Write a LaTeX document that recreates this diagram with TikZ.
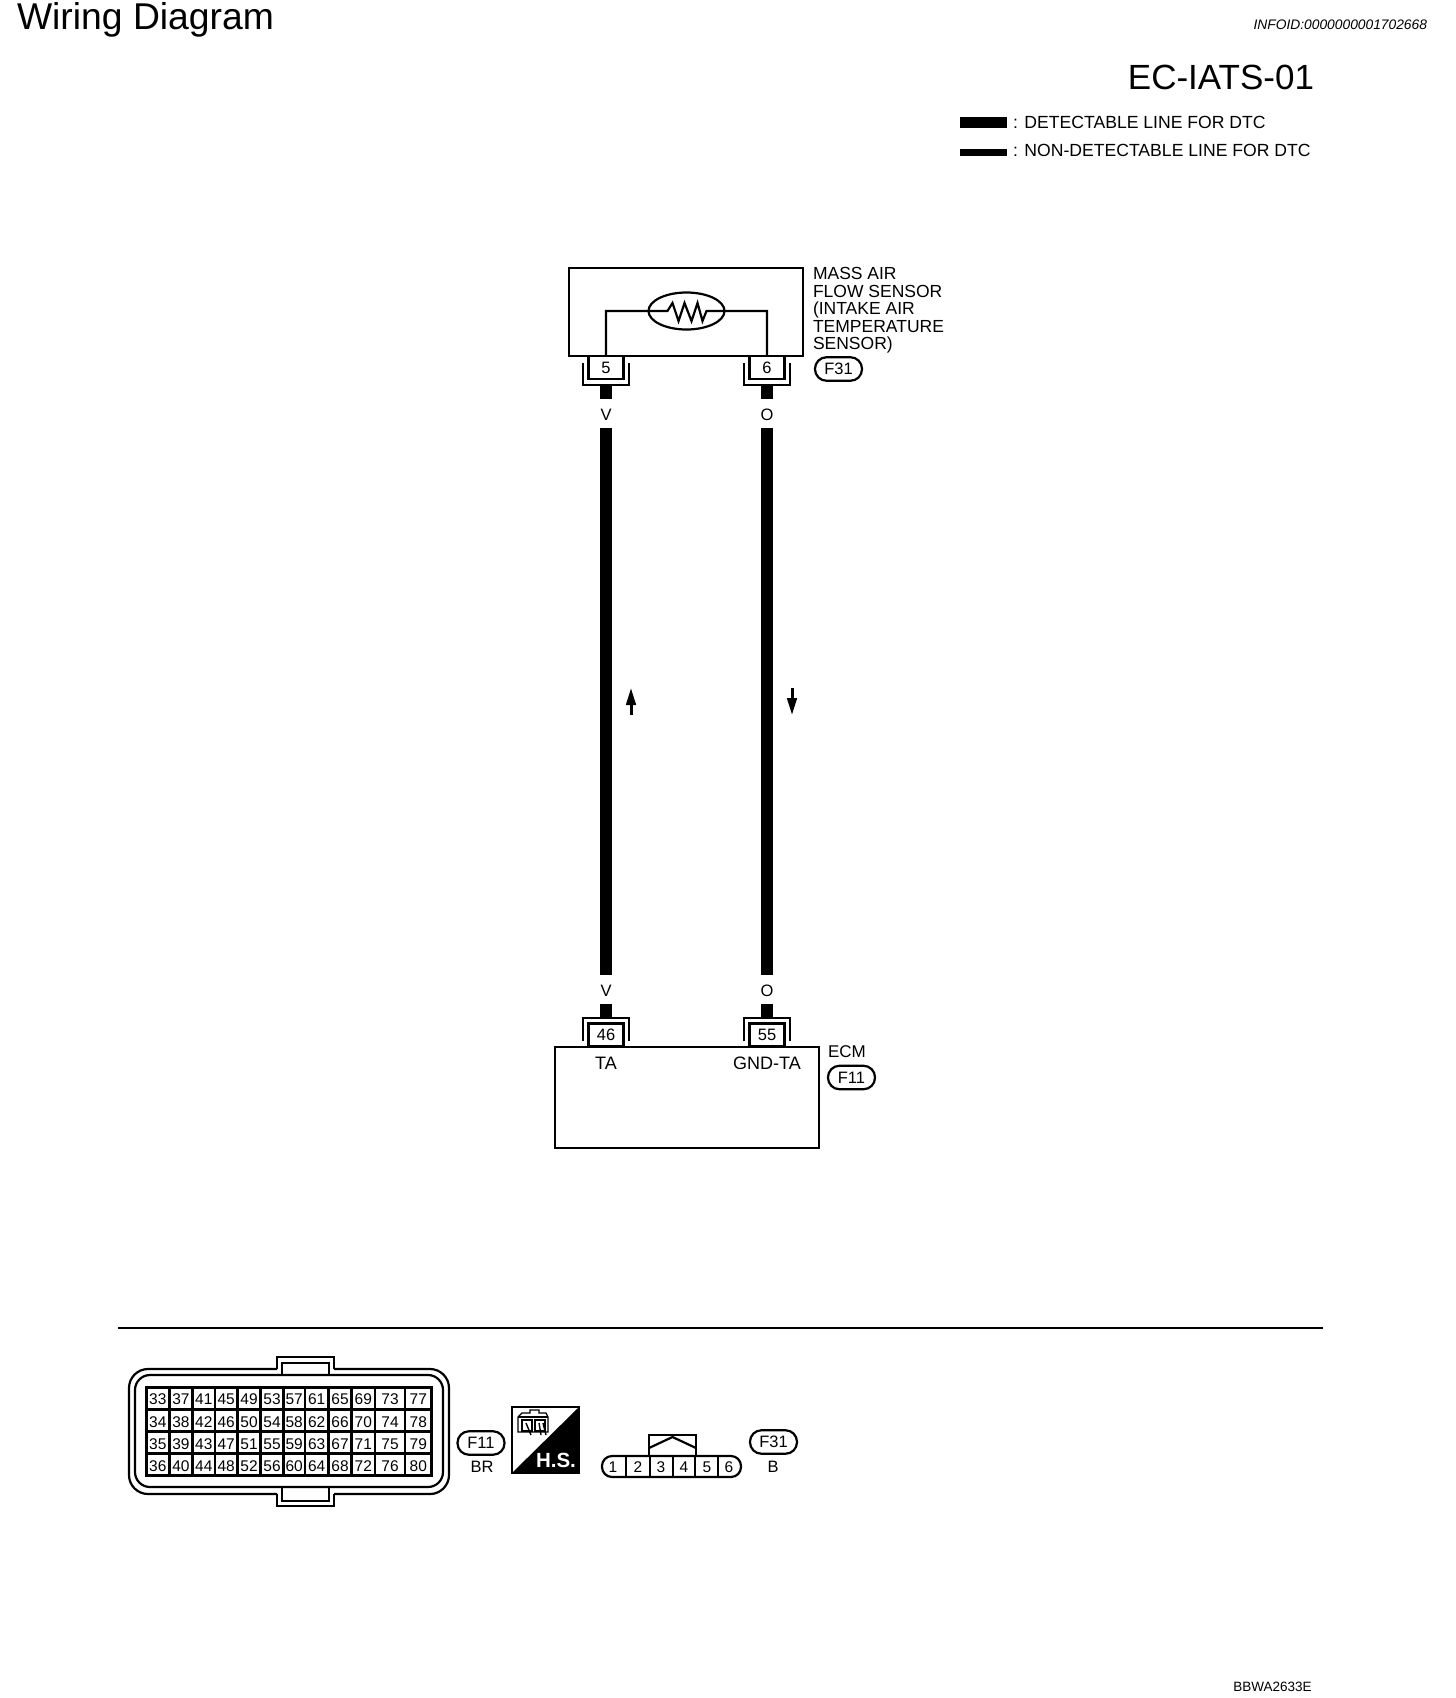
\documentclass[tikz,border=0pt]{standalone}
\usepackage{fontspec}
\setmainfont{Liberation Sans}
\usetikzlibrary{arrows.meta,shapes.geometric}
\newcommand{\fsz}[1]{\fontsize{#1}{#1}\selectfont}
\tikzset{
    box/.style={draw, rectangle, line width=2.2pt, inner sep=0pt, outer sep=0pt},
    pinbox/.style={box, minimum width=35pt, minimum height=23pt, font=\fsz{16.5}},
    tagbox/.style={box, rounded corners=11.5pt, minimum width=47pt, minimum height=23.5pt, font=\fsz{16.5}},
    wire/.style={line width=11.5pt},
    thinline/.style={line width=2.2pt},
    lbl/.style={inner sep=0pt, outer sep=0pt, font=\fsz{16.5}},
    wirelbl/.style={inner sep=0pt, outer sep=0pt, font=\fsz{16.5}, minimum width=12pt, minimum height=29pt, text height=15.5pt, text depth=0pt},
    cell/.style={draw, rectangle, line width=2.6pt, inner sep=0pt, outer sep=0pt, minimum height=22.1pt, font=\fsz{15.5}, text height=13.2pt, text depth=0pt},
    flow/.style={line width=3pt, -{Triangle[length=17pt,width=9.5pt]}},
}
\begin{document}
\begin{tikzpicture}[x=1pt, y=-1pt]
    \useasboundingbox (0,0) rectangle (1456,1698);

    % header
    \node[lbl, anchor=base west, font=\fsz{37.3}] (title) at (17,29) {Wiring Diagram};
    \node[lbl, anchor=east, font=\fsz{13.8}\itshape] (infoid) at (1427,25) {INFOID:0000000001702668};
    \node[lbl, anchor=east, font=\fsz{35}] (pagecode) at (1314,77) {EC-IATS-01};

    % legend
    \node[lbl, anchor=west, font=\fsz{17.6}] (legA) at (1013,122) {: DETECTABLE LINE FOR DTC};
    \node[lbl, anchor=west, font=\fsz{17.6}] (legB) at (1013,150) {: NON-DETECTABLE LINE FOR DTC};
    \coordinate (barA) at (960,122);
    \coordinate (barAend) at (1007,122);
    \coordinate (barB) at (960,152);
    \coordinate (barBend) at (1007,152);
    \draw[line width=11pt] (barA) -- (barAend);
    \draw[line width=7pt] (barB) -- (barBend);

    % sensor
    \node[box, minimum width=234pt, minimum height=88pt] (sensor) at (686,312) {};
    \node[box, ellipse, minimum width=76pt, minimum height=37pt] (therm) at (686.5,311) {};
    \node[lbl, anchor=west, align=left, font=\fsz{17.5}] (sensorlbl) at (813,310.5) {MASS AIR\\FLOW SENSOR\\(INTAKE AIR\\TEMPERATURE\\SENSOR)};
    \node[tagbox] (tagA) at (838.5,369) {F31};

    % ecm
    \node[box, minimum width=264pt, minimum height=101pt] (ecm) at (687,1097.5) {};
    \node[lbl, anchor=west, font=\fsz{17}] (ecmlbl) at (828,1052) {ECM};
    \node[tagbox] (tagB) at (851.5,1077.5) {F11};
    \node[lbl, font=\fsz{18}] (ta) at (606,1063) {TA};
    \node[lbl, font=\fsz{18}] (gndta) at (767,1063) {GND-TA};

    % pins
    \foreach \pnum/\px in {5/606, 6/767} {
        \node[pinbox] (pin\pnum) at (\px,367.5) {\pnum};
        \draw[thinline] (\px-23,363) -- (\px-23,385) -- (\px+23,385) -- (\px+23,363);
        \coordinate (out\pnum) at (\px,385);
    }
    \foreach \pnum/\px in {46/606, 55/767} {
        \node[pinbox] (pin\pnum) at (\px,1035) {\pnum};
        \draw[thinline] (\px-23,1041) -- (\px-23,1018) -- (\px+23,1018) -- (\px+23,1041);
        \coordinate (out\pnum) at (\px,1018);
    }

    % inner circuit
    \draw[thinline] (pin5.north) |- (therm.west) -- ++(19,0) -- ++(5,-8) -- ++(6,18) -- ++(6,-18) -- ++(7,18) -- ++(6,-18) -- ++(5,18) -- ++(4,-10) -- (therm.east) -| (pin6.north);

    % wires
    \node[wirelbl] (vtop) at (606,413) {V};
    \node[wirelbl] (vbot) at (606,989) {V};
    \node[wirelbl] (otop) at (767,413) {O};
    \node[wirelbl] (obot) at (767,989) {O};
    \draw[wire] (out5) -- (vtop);
    \draw[wire] (vtop) -- (vbot);
    \draw[wire] (vbot) -- (out46);
    \draw[wire] (out6) -- (otop);
    \draw[wire] (otop) -- (obot);
    \draw[wire] (obot) -- (out55);

    % current arrows
    \coordinate (upA) at (631,715);
    \coordinate (upB) at (631,688);
    \coordinate (downA) at (792,688);
    \coordinate (downB) at (792,715);
    \draw[flow] (upA) -- (upB);
    \draw[flow] (downA) -- (downB);

    % separator
    \coordinate (sepA) at (118,1328);
    \coordinate (sepB) at (1323,1328);
    \draw[line width=2.6pt] (sepA) -- (sepB);

    % connector F11
    \draw[thinline, rounded corners=19pt] (277,1369) -- (129,1369) -- (129,1494) -- (277,1494);
    \draw[thinline, rounded corners=19pt] (334,1369) -- (449,1369) -- (449,1494) -- (334,1494);
    \draw[thinline] (277,1369) -- (277,1357) -- (334,1357) -- (334,1369);
    \draw[thinline] (277,1494) -- (277,1506) -- (334,1506) -- (334,1494);
    \node[box, rounded corners=15pt, minimum width=308pt, minimum height=112pt] (shell) at (289,1431) {};
    \node[box, minimum width=47pt, minimum height=12pt] (latchA) at (305.5,1369) {};
    \node[box, minimum width=47pt, minimum height=14pt] (latchB) at (305.5,1494) {};
    \foreach \xl/\xr [count=\c from 0] in {146.3/169.3, 169.3/192.7, 192.7/215, 215/237.3, 237.3/260.7, 260.7/283.3, 283.3/305, 305/328.3, 328.3/351.7, 351.7/375, 375/405, 405/431.7} {
        \foreach \r in {0,1,2,3} {
            \pgfmathtruncatemacro{\num}{33+4*\c+\r}
            \pgfmathsetmacro{\cx}{(\xl+\xr)/2}
            \pgfmathsetmacro{\cy}{1398.35+22.1*\r}
            \pgfmathsetmacro{\cw}{\xr-\xl}
            \node[cell, minimum width=\cw pt] (c\num) at (\cx,\cy) {\num};
        }
    }
    \node[tagbox] (tagC) at (481,1443) {F11};
    \node[lbl] (colC) at (482,1467) {BR};

    % harness side symbol
    \node[box, minimum width=67pt, minimum height=66pt] (hs) at (545.5,1440) {};
    \fill (hs.north east) -- (hs.south east) -- (hs.south west) -- cycle;
    \node[lbl, white, font=\fsz{20.5}\bfseries] (hstxt) at (556,1460.5) {H.S.};
    \draw[line width=1.2pt] (518,1417) -- (522,1413) -- (530,1413) -- (530,1410) -- (539,1410) -- (539,1413) -- (546,1413) -- (548,1417) -- (548,1432) -- (518,1432) -- cycle;
    \draw[line width=1.2pt] (518,1417) -- (548,1417);
    \draw[line width=1.2pt] (522,1420) rectangle (532,1431);
    \draw[line width=1.2pt] (535,1420) rectangle (545,1431);
    \draw[line width=1.4pt] (526,1423) -- (531,1435);
    \draw[line width=1.4pt] (539,1423) -- (541,1435);
    \draw[line width=1.4pt] (543,1423) -- (546,1435);

    % connector F31
    \node[box, rounded corners=10pt, minimum width=139pt, minimum height=21pt] (body) at (671.5,1466.5) {};
    \node[box, minimum width=47pt, minimum height=21pt] (cap) at (672.5,1445.5) {};
    \draw[thinline] (cap.west |- 0,1448) -- (672.5,1437) -- (cap.east |- 0,1448);
    \foreach \lx in {626,650,673,695,718} {
        \coordinate (ct\lx) at (\lx,1456);
        \coordinate (cb\lx) at (\lx,1477);
        \draw[thinline] (ct\lx) -- (cb\lx);
    }
    \foreach \cnum/\cx in {1/613, 2/638, 3/661, 4/684, 5/707, 6/729} {
        \node[lbl, font=\fsz{15.5}] (b\cnum) at (\cx,1467) {\cnum};
    }
    \node[tagbox] (tagD) at (773.5,1442) {F31};
    \node[lbl] (colD) at (773,1467) {B};

    % drawing number
    \node[lbl, font=\fsz{13.5}] (drawno) at (1272.5,1687) {BBWA2633E};
\end{tikzpicture}
\end{document}
